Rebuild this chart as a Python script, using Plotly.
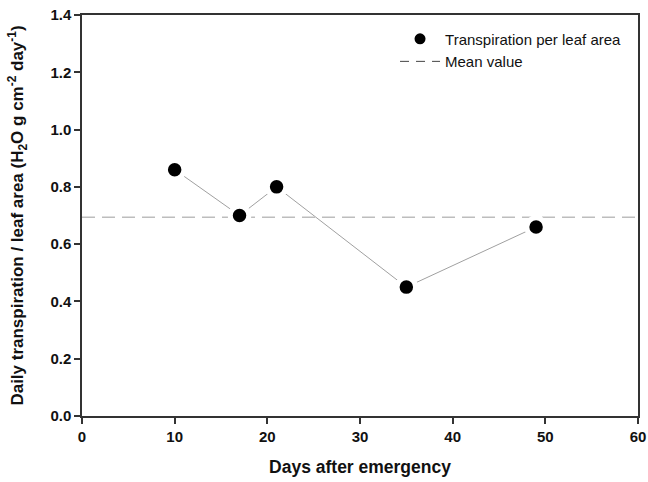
import plotly.graph_objects as go

days = [10, 17, 21, 35, 49]
transpiration = [0.86, 0.70, 0.80, 0.45, 0.66]
mean_value = 0.694
x_range = [0, 60]
y_range = [0, 1.4]
x_ticks = [0, 10, 20, 30, 40, 50, 60]
y_ticks = [0.0, 0.2, 0.4, 0.6, 0.8, 1.0, 1.2, 1.4]

FONT = "Arial, Liberation Sans, sans-serif"

fig = go.Figure()
fig.add_trace(go.Scatter(
    x=days, y=transpiration, mode="lines", line=dict(color="#a0a0a0", width=1),
    showlegend=False, hoverinfo="skip"))
fig.add_trace(go.Scatter(
    x=x_range, y=[mean_value, mean_value], mode="lines",
    line=dict(color="#bdbdbd", width=1.6, dash="13px,7px"),
    name="Mean value", showlegend=False))
fig.add_trace(go.Scatter(
    x=days, y=transpiration, mode="markers",
    marker=dict(color="black", size=18.5, line=dict(color="white", width=5)),
    name="Transpiration per leaf area"))
# legend entry for the mean line
fig.add_trace(go.Scatter(
    x=[None], y=[None], mode="lines",
    line=dict(color="#444444", width=1, dash="9px,7px"),
    name="Mean value"))

axis_common = dict(
    showline=True, linecolor="#333333", linewidth=1.5, mirror=True,
    ticks="outside", ticklen=6, tickwidth=1.5, tickcolor="#333333",
    showgrid=False, zeroline=False, automargin=False,
    tickfont=dict(family=FONT, size=15, color="#111111", weight="bold"),
)

fig.update_xaxes(range=x_range, tickvals=x_ticks, **axis_common,
                 title=dict(text="Days after emergency",
                            font=dict(family=FONT, size=17.5, color="#111111", weight="bold"),
                            standoff=17))
fig.update_yaxes(range=y_range, tickvals=y_ticks, tickformat=".1f", **axis_common,
                 title=dict(text="Daily transpiration / leaf area (H<sub>2</sub>O g cm<sup>-2</sup> day<sup>-1</sup>)",
                            font=dict(family=FONT, size=17, color="#111111", weight="bold"),
                            standoff=22))

fig.update_layout(
    width=648, height=482,
    margin=dict(l=82, r=10, t=15, b=66),
    plot_bgcolor="white", paper_bgcolor="white",
    legend=dict(x=0.563, y=0.981, xanchor="left", yanchor="top",
                bgcolor="rgba(0,0,0,0)",
                font=dict(family=FONT, size=15, color="#111111"),
                tracegroupgap=0, itemwidth=40),
)

fig.write_html("out.html")
